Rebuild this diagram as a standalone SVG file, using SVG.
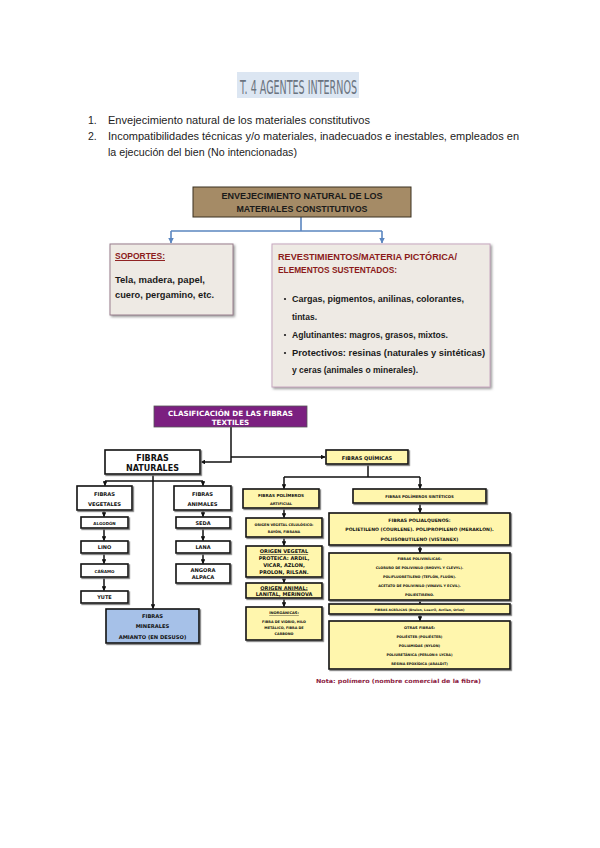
<svg xmlns="http://www.w3.org/2000/svg" width="600" height="848" viewBox="0 0 600 848">
<defs>
<style>
.list{font-family:"Liberation Sans",Arial,sans-serif;font-size:10.5px;fill:#222}
.cal{font-family:"Liberation Sans",Arial,sans-serif;font-weight:bold;font-size:9.5px;fill:#1a1a1a}
.red{fill:#8b1a1a}
.bx{stroke:#111;stroke-width:1.6;filter:url(#sh)}
.w{fill:#fff}
.y{fill:#fff6ad}
.t{font-family:"DejaVu Sans",Verdana,sans-serif;font-weight:bold;fill:#111;text-anchor:middle}
.c{fill:none;stroke:#111;stroke-width:1.5}
.cb{fill:none;stroke:#5b86c0;stroke-width:1.6}
</style>
<filter id="sh" x="-10%" y="-10%" width="130%" height="140%"><feDropShadow dx="1.2" dy="1.2" stdDeviation="0.4" flood-color="#777"/></filter>
<filter id="sh2" x="-10%" y="-10%" width="130%" height="130%"><feDropShadow dx="1.5" dy="1.5" stdDeviation="1.2" flood-color="#999"/></filter>
<marker id="a" viewBox="0 0 10 10" refX="9" refY="5" markerWidth="3.2" markerHeight="3.2" orient="auto"><path d="M0,0 L10,5 L0,10 z" fill="#111"/></marker>
<marker id="ab" viewBox="0 0 10 10" refX="9" refY="5" markerWidth="3.5" markerHeight="3.5" orient="auto"><path d="M0,0 L10,5 L0,10 z" fill="#5b86c0"/></marker>
</defs>
<rect width="600" height="848" fill="#fff"/>

<g id="title">
<rect x="237" y="72" width="122" height="26" fill="#dce6f2"/>
<text x="240" y="94" font-family="'DejaVu Sans Condensed','DejaVu Sans',sans-serif" font-size="20" fill="#6b7480" textLength="117" lengthAdjust="spacingAndGlyphs">T. 4 AGENTES INTERNOS</text>
</g>
<g id="list">
<text class="list" x="88" y="124">1.</text>
<text class="list" x="108" y="124" textLength="262" lengthAdjust="spacingAndGlyphs">Envejecimiento natural de los materiales constitutivos</text>
<text class="list" x="88" y="140">2.</text>
<text class="list" x="108" y="140" textLength="411" lengthAdjust="spacingAndGlyphs">Incompatibilidades técnicas y/o materiales, inadecuados e inestables, empleados en</text>
<text class="list" x="108" y="156" textLength="189" lengthAdjust="spacingAndGlyphs">la ejecución del bien (No intencionadas)</text>
</g>

<g id="connectors-top">
<path class="cb" d="M301 217 V231 M171 231 H382"/>
<path class="cb" d="M171 231 V243" marker-end="url(#ab)"/>
<path class="cb" d="M382 231 V243" marker-end="url(#ab)"/>
</g>
<g id="envejecimiento">
<rect x="193" y="187" width="218" height="30" fill="#a58b66" stroke="#3a3020" stroke-width="1"/>
<text class="cal" x="302" y="199" font-size="8.5" text-anchor="middle" fill="#2a2010" textLength="161" lengthAdjust="spacingAndGlyphs">ENVEJECIMIENTO NATURAL DE LOS</text>
<text class="cal" x="302" y="212" font-size="8.5" text-anchor="middle" fill="#2a2010" textLength="131" lengthAdjust="spacingAndGlyphs">MATERIALES CONSTITUTIVOS</text>
</g>
<g id="soportes">
<rect x="110" y="244" width="123" height="71" fill="#eeeae4" stroke="#9a7f8e" stroke-width="1" filter="url(#sh2)"/>
<text class="cal red" x="115" y="259" textLength="50" lengthAdjust="spacingAndGlyphs" text-decoration="underline">SOPORTES:</text>
<text class="cal" x="115" y="283" textLength="90" lengthAdjust="spacingAndGlyphs">Tela, madera, papel,</text>
<text class="cal" x="115" y="298" textLength="99" lengthAdjust="spacingAndGlyphs">cuero, pergamino, etc.</text>
</g>
<g id="revestimientos">
<rect x="272" y="244" width="218" height="143" fill="#eeeae4" stroke="#c8a8c0" stroke-width="1" filter="url(#sh2)"/>
<text class="cal red" x="278" y="260" textLength="179" lengthAdjust="spacingAndGlyphs">REVESTIMIENTOS/MATERIA PICTÓRICA/</text>
<text class="cal red" x="278" y="273" textLength="119" lengthAdjust="spacingAndGlyphs">ELEMENTOS SUSTENTADOS:</text>
<circle cx="285" cy="299" r="1.1" fill="#1a1a1a"/>
<circle cx="285" cy="335" r="1.1" fill="#1a1a1a"/>
<circle cx="285" cy="353" r="1.1" fill="#1a1a1a"/>
<text class="cal" x="292" y="302" textLength="172" lengthAdjust="spacingAndGlyphs">Cargas, pigmentos, anilinas, colorantes,</text>
<text class="cal" x="292" y="320" textLength="25" lengthAdjust="spacingAndGlyphs">tintas.</text>
<text class="cal" x="292" y="338" textLength="156" lengthAdjust="spacingAndGlyphs">Aglutinantes: magros, grasos, mixtos.</text>
<text class="cal" x="292" y="356" textLength="193" lengthAdjust="spacingAndGlyphs">Protectivos: resinas (naturales y sintéticas)</text>
<text class="cal" x="292" y="373" textLength="126" lengthAdjust="spacingAndGlyphs">y ceras (animales o minerales).</text>
</g>

<g id="connectors">
<path class="c" d="M231 427 V462 H201" marker-end="url(#a)"/>
<path class="c" d="M231 457 H325" marker-end="url(#a)"/>
<path class="c" d="M105 481 H203"/>
<path class="c" d="M105 481 V485.5" marker-end="url(#a)"/>
<path class="c" d="M203 481 V485.5" marker-end="url(#a)"/>
<path class="c" d="M153 474 V608.5" marker-end="url(#a)"/>
<path class="c" d="M104 510 V516.5" marker-end="url(#a)"/>
<path class="c" d="M104 528 V540.5" marker-end="url(#a)"/>
<path class="c" d="M104 553 V563.5" marker-end="url(#a)"/>
<path class="c" d="M104 577 V590.5" marker-end="url(#a)"/>
<path class="c" d="M203 510 V516.5" marker-end="url(#a)"/>
<path class="c" d="M203 528 V540.5" marker-end="url(#a)"/>
<path class="c" d="M203 553 V563.5" marker-end="url(#a)"/>
<path class="c" d="M368 464 V477 M284 477 H420"/>
<path class="c" d="M284 477 V488.5" marker-end="url(#a)"/>
<path class="c" d="M420 477 V488.5" marker-end="url(#a)"/>
<path class="c" d="M284 508 V517.5" marker-end="url(#a)"/>
<path class="c" d="M284 537 V545.5" marker-end="url(#a)"/>
<path class="c" d="M284 577 V582.5" marker-end="url(#a)"/>
<path class="c" d="M284 598 V606.5" marker-end="url(#a)"/>
<path class="c" d="M420 503 V512.5" marker-end="url(#a)"/>
<path class="c" d="M420 545 V552.5" marker-end="url(#a)"/>
<path class="c" d="M420 600 V603.5" marker-end="url(#a)"/>
<path class="c" d="M420 614 V620.5" marker-end="url(#a)"/>
</g>

<g id="clasificacion">
<rect x="154" y="406" width="153" height="21" fill="#7b2080" stroke="#555" stroke-width="0.8"/>
<text class="t" x="230.5" y="415.5" font-size="7.2" style="fill:#fff">CLASIFICACIÓN DE LAS FIBRAS</text>
<text class="t" x="230.5" y="424.5" font-size="7.2" style="fill:#fff">TEXTILES</text>
</g>
<g id="naturales">
<rect class="bx w" x="105" y="450" width="95" height="24"/>
<text class="t" x="152.5" y="460.5" font-size="8">FIBRAS</text>
<text class="t" x="152.5" y="470.5" font-size="8">NATURALES</text>
</g>
<g id="vegetales">
<rect class="bx w" x="77" y="486" width="55" height="24"/>
<text class="t" x="104.5" y="495.5" font-size="5.2">FIBRAS</text>
<text class="t" x="104.5" y="505.5" font-size="5.2">VEGETALES</text>
</g>
<g id="animales">
<rect class="bx w" x="174" y="486" width="57" height="24"/>
<text class="t" x="202.5" y="495.5" font-size="5.2">FIBRAS</text>
<text class="t" x="202.5" y="505.5" font-size="5.2">ANIMALES</text>
</g>
<g id="algodon"><rect class="bx w" x="81" y="517" width="47" height="11"/><text class="t" x="104.5" y="524.5" font-size="4">ALGODÓN</text></g>
<g id="lino"><rect class="bx w" x="81" y="541" width="47" height="12"/><text class="t" x="104.5" y="549" font-size="5">LINO</text></g>
<g id="canamo"><rect class="bx w" x="81" y="564" width="47" height="13"/><text class="t" x="104.5" y="572.5" font-size="4">CÁÑAMO</text></g>
<g id="yute"><rect class="bx w" x="81" y="591" width="47" height="12"/><text class="t" x="104.5" y="599" font-size="5">YUTE</text></g>
<g id="seda"><rect class="bx w" x="176" y="517" width="54" height="11"/><text class="t" x="203" y="524.5" font-size="5">SEDA</text></g>
<g id="lana"><rect class="bx w" x="176" y="541" width="54" height="12"/><text class="t" x="203" y="549" font-size="5">LANA</text></g>
<g id="angora"><rect class="bx w" x="176" y="564" width="54" height="19"/><text class="t" x="203" y="572" font-size="5.2">ANGORA</text><text class="t" x="203" y="579" font-size="5.2">ALPACA</text></g>
<g id="minerales">
<rect class="bx" x="106" y="609" width="93" height="34" fill="#a6c1e8"/>
<text class="t" x="152.5" y="617.5" font-size="5.2">FIBRAS</text>
<text class="t" x="152.5" y="628" font-size="5.2">MINERALES</text>
<text class="t" x="152.5" y="638.5" font-size="5.2">AMIANTO (EN DESUSO)</text>
</g>

<g id="quimicas"><rect class="bx y" x="326" y="450" width="82" height="14"/><text class="t" x="367" y="459.5" font-size="5">FIBRAS QUÍMICAS</text></g>
<g id="artificiales">
<rect class="bx y" x="243" y="489" width="76" height="19"/>
<text class="t" x="281" y="497" font-size="4.2">FIBRAS POLÍMEROS</text>
<text class="t" x="281" y="504.5" font-size="3.6">ARTIFICIAL</text>
</g>
<g id="celulosico">
<rect class="bx y" x="246" y="518" width="76" height="19"/>
<text class="t" x="284" y="526" font-size="3.4">ORIGEN VEGETAL CELULÓSICO:</text>
<text class="t" x="284" y="532.5" font-size="3.4">RAYÓN, FIBRANA</text>
</g>
<g id="proteica">
<rect class="bx y" x="246" y="546" width="76" height="31"/>
<text class="t" x="284" y="553" font-size="5" text-decoration="underline">ORIGEN VEGETAL</text>
<text class="t" x="284" y="560" font-size="5">PROTEICA: ARDIL,</text>
<text class="t" x="284" y="567" font-size="5">VICAR, AZLON,</text>
<text class="t" x="284" y="574" font-size="5">PROLON, RILSAN.</text>
</g>
<g id="animal">
<rect class="bx y" x="246" y="583" width="76" height="15"/>
<text class="t" x="284" y="589.5" font-size="5" text-decoration="underline">ORIGEN ANIMAL:</text>
<text class="t" x="284" y="596" font-size="5">LANITAL, MERINOVA</text>
</g>
<g id="inorganicas">
<rect class="bx y" x="246" y="607" width="76" height="33"/>
<text class="t" x="284" y="614" font-size="3.6" text-decoration="underline">INORGÁNICAS:</text>
<text class="t" x="284" y="623" font-size="3.4">FIBRA DE VIDRIO, HILO</text>
<text class="t" x="284" y="629" font-size="3.4">METÁLICO, FIBRA DE</text>
<text class="t" x="284" y="635" font-size="3.4">CARBONO</text>
</g>
<g id="sinteticos"><rect class="bx y" x="353" y="489" width="133" height="14"/><text class="t" x="419.5" y="498" font-size="3.8">FIBRAS POLÍMEROS SINTÉTICOS</text></g>
<g id="polialquenos">
<rect class="bx y" x="329" y="513" width="181" height="32"/>
<text class="t" x="419.5" y="521.5" font-size="4.6">FIBRAS POLIALQUENOS:</text>
<text class="t" x="419.5" y="531" font-size="4.6">POLIETILENO (COURLENE). POLIPROPILENO (MERAKLON).</text>
<text class="t" x="419.5" y="540.5" font-size="4.6">POLIISOBUTILENO (VISTANEX)</text>
</g>
<g id="polivinilicas">
<rect class="bx y" x="329" y="553" width="181" height="47"/>
<text class="t" x="419.5" y="559.5" font-size="3.4">FIBRAS POLIVINÍLICAS:</text>
<text class="t" x="419.5" y="568.5" font-size="3.4">CLORURO DE POLIVINILO (RHOVYL Y CLEVYL).</text>
<text class="t" x="419.5" y="578" font-size="3.4">POLIFLUORETILENO (TEFLÓN, FLUÓN).</text>
<text class="t" x="419.5" y="587" font-size="3.4">ACETATO DE POLIVINILO (VINAVIL Y ECVIL).</text>
<text class="t" x="419.5" y="595.5" font-size="3.4">POLIESTIRENO.</text>
</g>
<g id="acrilicas"><rect class="bx y" x="329" y="604" width="181" height="10"/><text class="t" x="419.5" y="610.8" font-size="3.2">FIBRAS ACRÍLICAS (Dralon, Leacril, Acrilan, Orlon)</text></g>
<g id="otras">
<rect class="bx y" x="329" y="621" width="181" height="48"/>
<text class="t" x="419.5" y="629" font-size="3.6">OTRAS FIBRAS:</text>
<text class="t" x="419.5" y="638" font-size="3.4">POLIÉSTER (POLIÉSTER)</text>
<text class="t" x="419.5" y="647" font-size="3.4">POLIAMIDAS (NYLON)</text>
<text class="t" x="419.5" y="656" font-size="3.4">POLIURETÁNICA (PERLON® LYCRA)</text>
<text class="t" x="419.5" y="665" font-size="3.4">RESINA EPOXÍDICA (ARALDIT)</text>
</g>
<g id="nota"><text x="316" y="682.5" font-family="'DejaVu Sans',Verdana,sans-serif" font-weight="bold" font-size="5.6" fill="#8b2040" textLength="165" lengthAdjust="spacingAndGlyphs">Nota: polímero (nombre comercial de la fibra)</text></g>
</svg>
